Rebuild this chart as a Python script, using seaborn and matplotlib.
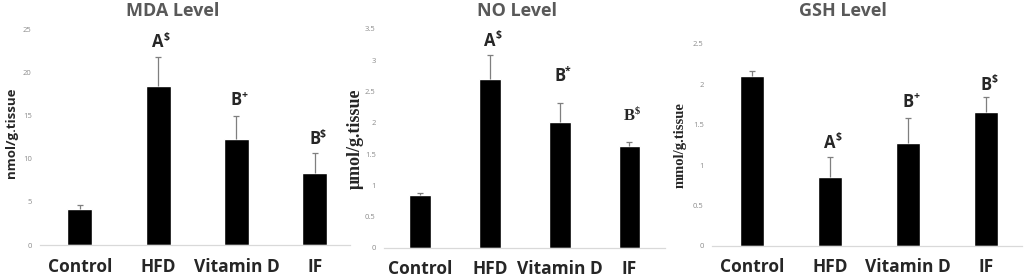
import numpy as np
import pandas as pd
import matplotlib
matplotlib.use('Agg')
import matplotlib.pyplot as plt
import seaborn as sns
from matplotlib.ticker import FuncFormatter

# ------------------------------------------------------------ #
# data
# ------------------------------------------------------------ #
groups = ['Control', 'HFD', 'Vitamin D', 'IF']

mda_mean = [4.2, 18.4, 12.3, 8.3]
mda_sd = [0.4, 3.4, 2.6, 2.4]
mda_sig = ['', 'A', 'B', 'B']
mda_sup = ['', '$', '+', '$']

no_mean = [0.85, 2.70, 2.01, 1.63]
no_sd = [0.03, 0.38, 0.31, 0.06]
no_sig = ['', 'A', 'B', 'B']
no_sup = ['', '$', '*', '$']

gsh_mean = [2.10, 0.86, 1.28, 1.66]
gsh_sd = [0.07, 0.24, 0.31, 0.19]
gsh_sig = ['', 'A', 'B', 'B']
gsh_sup = ['', '$', '+', '$']

sns.set_style('white')
plt.rcParams['font.family'] = ['Open Sans', 'DejaVu Sans']

fig = plt.figure(figsize=(10.24, 2.77), dpi=100)


def px(x0, y0, x1, y1):
    # pixel box (top-left origin) -> figure fraction rect
    return [x0 / 1024, 1 - y1 / 277, (x1 - x0) / 1024, (y1 - y0) / 277]


def tick_fmt(v, pos):
    return '%g' % v


def panel(rect, mean, sd, sig, sup, ymax, step, xlim, width, title, title_x,
          ylabel, ylab_font, ylab_size, ylab_xy, gaps, sig_font):
    ax = fig.add_axes(rect)
    df = pd.DataFrame({'group': groups, 'value': mean})
    sns.barplot(data=df, x='group', y='value', color='black', saturation=1,
                width=width, errorbar=None, ax=ax)

    # upper-only error bars: stem from bar top + cap
    pos = np.arange(len(groups))
    top = np.array(mean) + np.array(sd)
    ax.vlines(pos, mean, top, color='#7f7f7f', lw=0.9, zorder=1)
    ax.plot(pos, top, ls='none', marker='_', ms=5, mew=0.9, color='#7f7f7f')

    # significance letters
    for i in range(len(groups)):
        if sig[i] == '':
            continue
        ax.annotate(sig[i], (i, top[i]), xytext=(0, gaps[i]),
                    textcoords='offset points', ha='center', va='bottom',
                    fontsize=12, fontweight='bold', family=sig_font[i])
        ax.annotate(sup[i], (i, top[i]), xytext=(3.8, gaps[i] + 6),
                    textcoords='offset points', ha='left', va='bottom',
                    fontsize=7.5, fontweight='bold', family=sig_font[i])

    ax.set_ylim(0, ymax)
    ax.set_xlim(*xlim)
    ax.set_yticks(np.arange(0, ymax + step / 2, step))
    ax.yaxis.set_major_formatter(FuncFormatter(tick_fmt))
    ax.tick_params(axis='y', length=0, labelsize=5.5, labelcolor='#8c8c8c', pad=6)
    ax.tick_params(axis='x', length=0, pad=9)
    for lab in ax.get_xticklabels():
        lab.set_fontsize(12.5)
        lab.set_fontweight('bold')
    ax.set_xlabel('')
    ax.set_ylabel(ylabel, family=ylab_font, fontsize=ylab_size, fontweight='bold')
    ax.yaxis.set_label_coords(*ylab_xy)
    sns.despine(ax=ax, left=True)
    ax.spines['bottom'].set_color('#d9d9d9')
    ax.spines['bottom'].set_linewidth(0.9)
    fig.text(title_x / 1024, 1 - 11 / 277, title, ha='center', va='center',
             fontsize=13, fontweight='bold', color='#595959')
    return ax


# MDA
panel(px(40, 29, 350, 245), mda_mean, mda_sd, mda_sig, mda_sup, 25, 5,
      (-0.51, 3.45), 0.32, 'MDA Level', 173,
      'nmol/g.tissue', 'Open Sans', 9.5, (-0.071, 0.52), [0, 4, 5, 3],
      ['Open Sans'] * 4)

# NO
panel(px(384, 29, 665, 248), no_mean, no_sd, no_sig, no_sup, 3.5, 0.5,
      (-0.52, 3.51), 0.31, 'NO Level', 517,
      'μmol/g.tissue', 'Liberation Serif', 13, (-0.071, 0.5), [0, 4, 13, 13],
      ['Open Sans', 'Open Sans', 'Open Sans', 'Liberation Serif'])

# GSH
panel(px(712, 44, 1022, 246), gsh_mean, gsh_sd, gsh_sig, gsh_sup, 2.5, 0.5,
      (-0.51, 3.46), 0.31, 'GSH Level', 843,
      'mmol/g.tissue', 'Liberation Serif', 10.5, (-0.081, 0.5), [0, 4, 5, 2],
      ['Open Sans'] * 4)

fig.savefig('out.png', dpi=100)
